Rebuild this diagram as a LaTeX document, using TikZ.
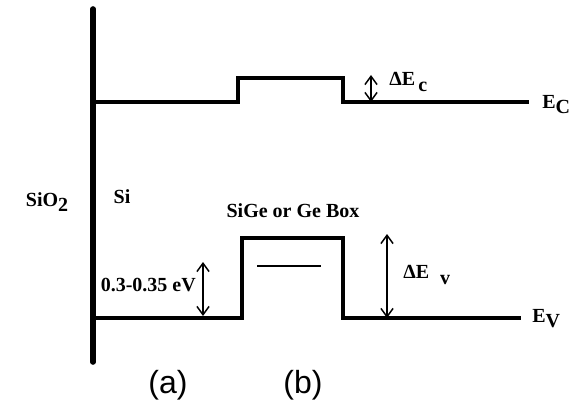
\documentclass[tikz,border=0pt]{standalone}
\usepackage{fontspec}
\setmainfont{Liberation Serif}
\newfontfamily\armfont{Liberation Sans}
\usetikzlibrary{arrows.meta}
\tikzset{
  band/.style={black,line width=2.3pt,line join=miter},
  wall/.style={black,line width=4.2pt,line cap=round},
  gap/.style={{Straight Barb[length=2.2mm,width=3.2mm]}-{Straight Barb[length=2.2mm,width=3.2mm]},black,line width=1.1pt},
  lbl/.style={inner sep=0pt,font=\fontsize{15}{17}\selectfont\bfseries},
  tag/.style={inner sep=0pt,font=\armfont\fontsize{24}{28}\selectfont},
}
\newcommand{\lowsub}[1]{\raisebox{-.55ex}{#1}}
\begin{document}
\begin{tikzpicture}[x=0.75pt,y=-0.75pt]
  \useasboundingbox (0,0) rectangle (577,406);
  % oxide wall
  \coordinate (wtop) at (93,9);
  \coordinate (wbot) at (93,362);
  \draw[wall] (wtop) -- (wbot);

  % conduction band with small step over the box
  \coordinate (cbL) at (93,102);
  \coordinate (cbR) at (529,102);
  \draw[band] (cbL) -- (238,102) -- (238,78) -- (343,78) -- (343,102) -- (cbR);
  \coordinate (dcT) at (371,75);
  \coordinate (dcB) at (371,102);
  \draw[gap] (dcT) -- (dcB);

  % valence band, the box well
  \coordinate (vbL) at (93,318);
  \coordinate (vbR) at (521,318);
  \draw[band] (vbL) -- (242,318) -- (242,238) -- (343,238) -- (343,318) -- (vbR);
  \coordinate (lvA) at (257,266);
  \coordinate (lvB) at (321,266);
  \draw[line width=1.3pt] (lvA) -- (lvB);
  \coordinate (dvT) at (387,234);
  \coordinate (dvB) at (387,318);
  \draw[gap] (dvT) -- (dvB);
  \coordinate (ofT) at (203,262);
  \coordinate (ofB) at (203,316);
  \draw[gap] (ofT) -- (ofB);

  % labels
  \node[lbl] (sio) at (47,202) {SiO\lowsub{2}};
  \node[lbl] (si) at (122,197) {Si};
  \node[lbl] (box) at (293,211) {SiGe or Ge Box};
  \node[lbl,anchor=east] (off) at (196,285) {0.3-0.35 eV};
  \node[lbl,anchor=west] (dEc) at (389,82) {ΔE\,\lowsub{c}};
  \node[lbl,anchor=west] (dEv) at (403,275) {ΔE\hspace{1.2ex}\lowsub{v}};
  \node[lbl,anchor=west] (Ec) at (542,105) {E\lowsub{C}};
  \node[lbl,anchor=west] (Ev) at (532,319) {E\lowsub{V}};
  \node[tag] (ta) at (168,385) {(a)};
  \node[tag] (tb) at (303,385) {(b)};
\end{tikzpicture}
\end{document}
